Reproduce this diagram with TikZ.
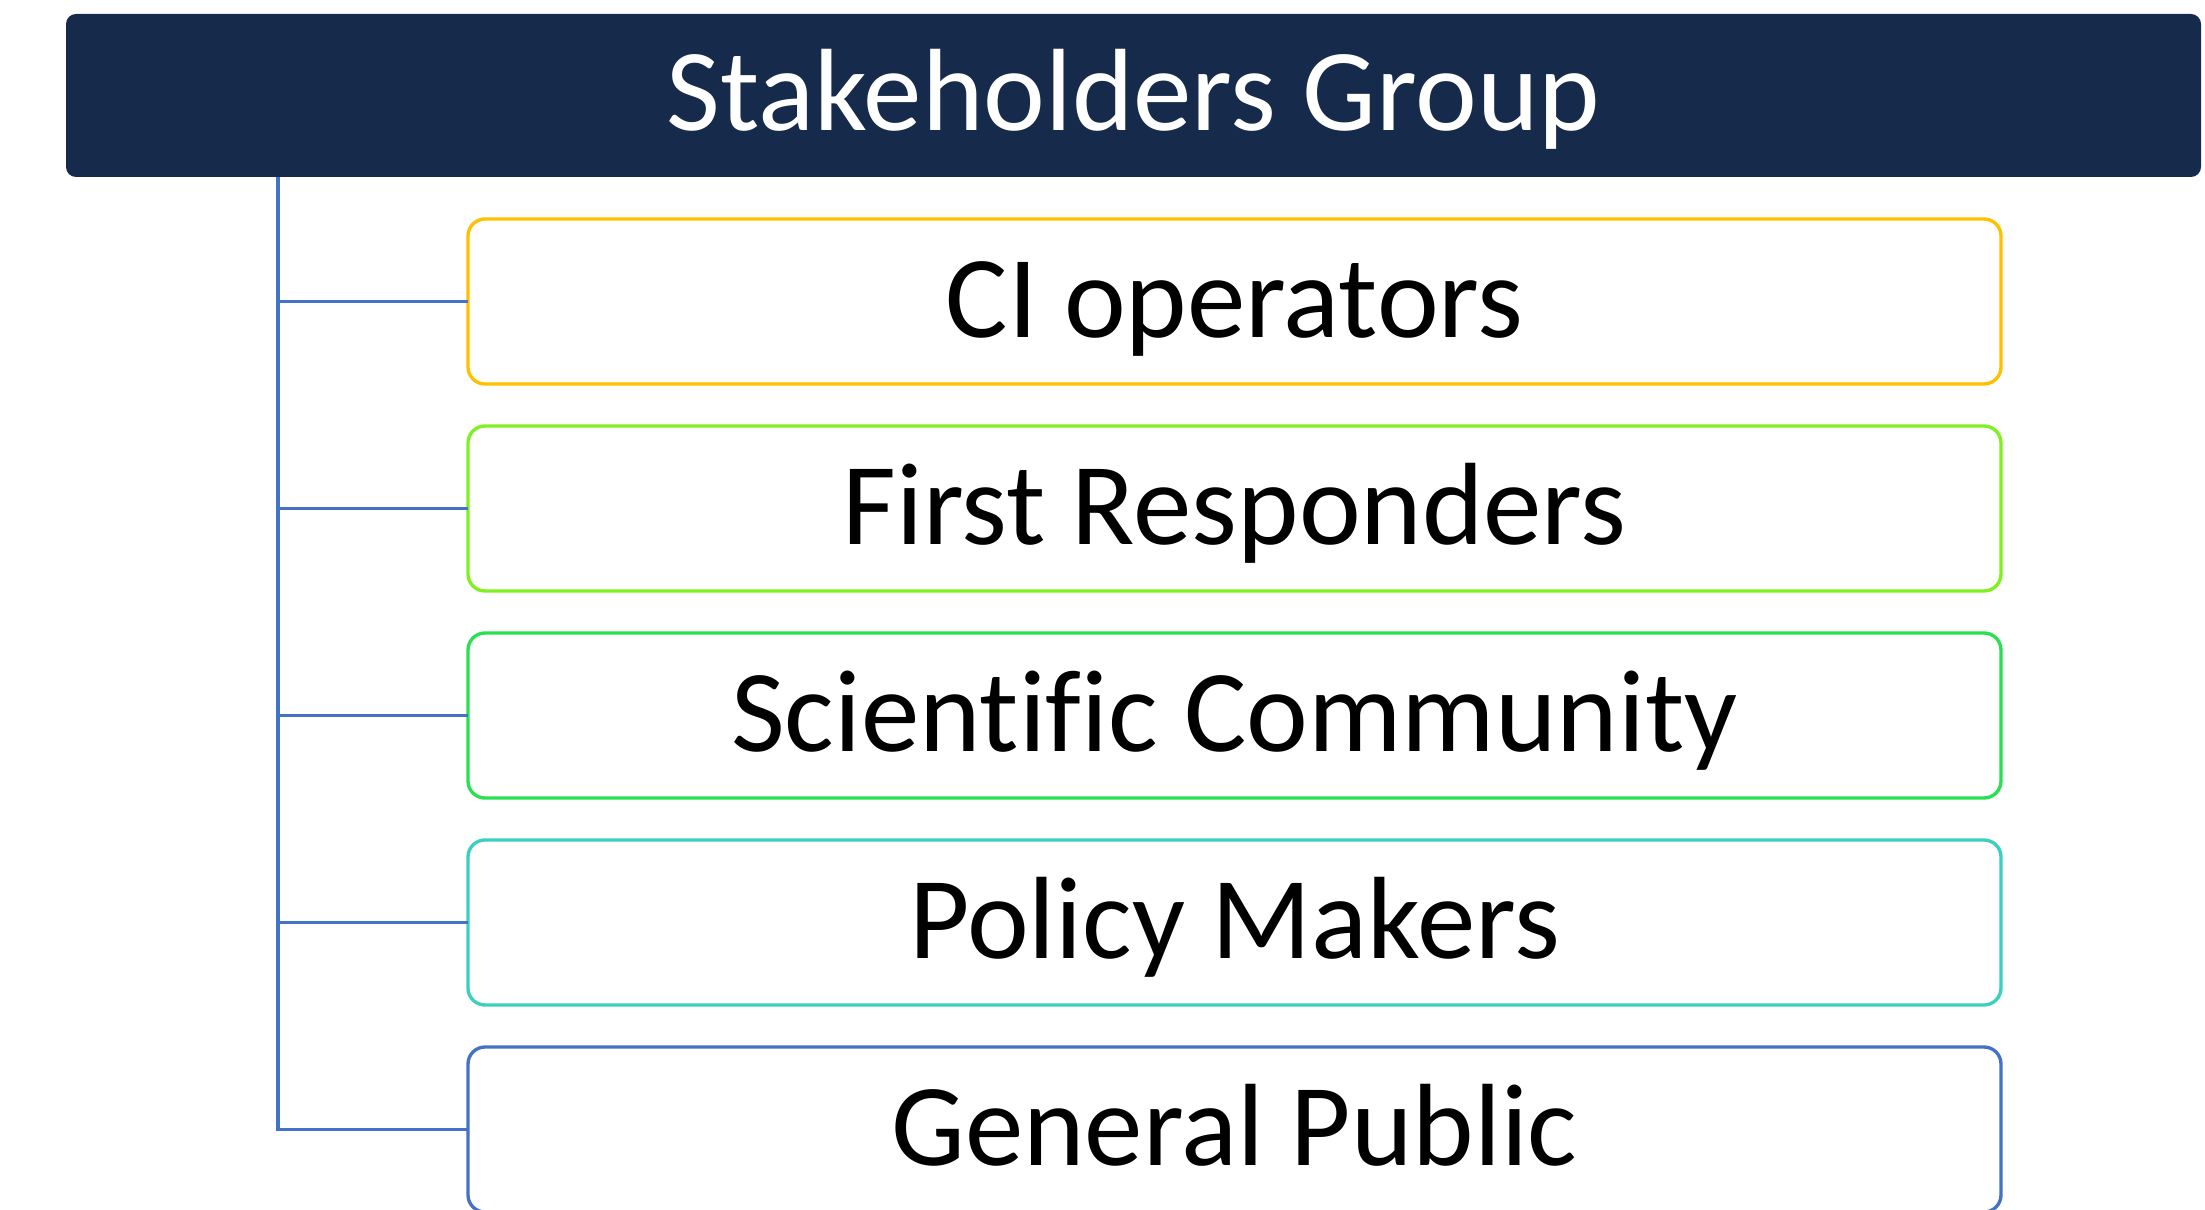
\documentclass[tikz,border=0pt]{standalone}
\usepackage{fontspec}
\setmainfont[Ligatures=NoCommon]{Carlito}
\usetikzlibrary{positioning}

\definecolor{navy}{RGB}{22,42,76}
\definecolor{opsyellow}{RGB}{255,192,0}
\definecolor{frlime}{RGB}{128,240,32}
\definecolor{scigreen}{RGB}{40,224,80}
\definecolor{polteal}{RGB}{58,207,192}
\definecolor{pubblue}{RGB}{68,114,196}

\begin{document}
\begin{tikzpicture}[
		title/.style={fill=navy, text=white, rounded corners=0.1cm, inner sep=0, outer sep=0,
			text height=0.94cm, text depth=0.24cm,
			minimum width=21.35cm, minimum height=1.63cm, font=\fontsize{33.3}{40}\selectfont},
		group/.style={draw=#1, line width=0.95pt, fill=white, rounded corners=0.17cm, inner sep=0, outer sep=0,
			text height=0.96cm, text depth=0.24cm,
			minimum width=15.33cm, minimum height=1.65cm, font=\fontsize{33.3}{40}\selectfont},
		conn/.style={draw=pubblue, line width=0.95pt}
	]
	\useasboundingbox (0,0) rectangle (22.05,-12.10);

	% Header
	\node[title] (head) at (11.335,-0.955) {Stakeholders Group};

	% Groups
	\node[group=opsyellow] (ops) at (12.345,-3.015) {CI operators};
	\node[group=frlime, below=0.42cm of ops] (resp) {First Responders};
	\node[group=scigreen, below=0.42cm of resp] (sci) {Scientific Community};
	\node[group=polteal, below=0.42cm of sci] (pol) {Policy Makers};
	\node[group=pubblue, below=0.42cm of pol] (pub) {General Public};

	% Tree lines
	\coordinate (spine) at (2.78,-1.77);
	\draw[conn] (spine) |- (pub.west);
	\draw[conn] (spine |- ops.west) -- (ops.west);
	\draw[conn] (spine |- resp.west) -- (resp.west);
	\draw[conn] (spine |- sci.west) -- (sci.west);
	\draw[conn] (spine |- pol.west) -- (pol.west);
\end{tikzpicture}
\end{document}
